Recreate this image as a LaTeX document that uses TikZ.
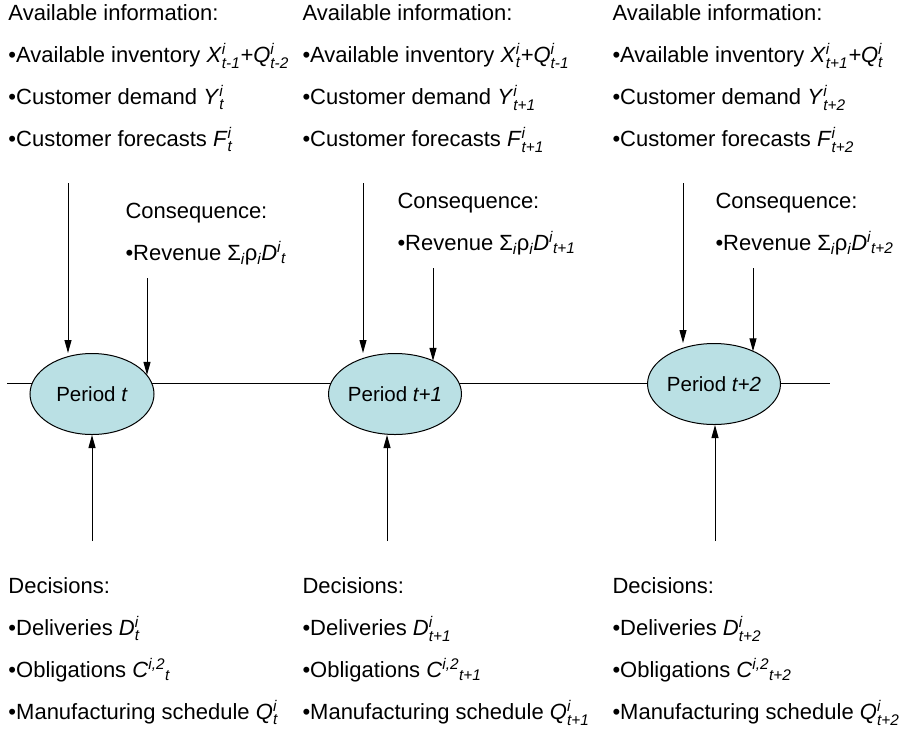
\documentclass[tikz,border=0pt]{standalone}
\usepackage{amsmath}
\usepackage{fontspec}
\setmainfont{Liberation Sans}
\usetikzlibrary{arrows.meta,shapes.geometric}
\definecolor{periodfill}{RGB}{186,224,228}
\newcommand{\vi}[1]{\textit{#1}}
\newcommand{\ssub}[3]{\textit{#1}$^{\textit{#2}}_{\textit{#3}}$}
\newcommand{\ssubr}[3]{\textit{#1}$^{\textit{#2}}{}_{\textit{#3}}$}

\begin{document}
\begin{tikzpicture}[x=1pt,y=-1pt,line width=1pt,
      >={Triangle[length=13pt,width=7pt]},
      txt/.style={anchor=base west,align=left,inner sep=0pt,font=\fontsize{22}{42}\selectfont},
      period/.style={ellipse,draw,fill=periodfill,minimum width=124pt,minimum height=81pt,
        inner sep=0pt,font=\fontsize{20.5}{24}\selectfont}]
      \useasboundingbox (0,0) rectangle (899,729);
      % time line
      \coordinate (l0) at (7,383);\coordinate (l1) at (830,383);
      \draw (l0)--(l1);
      \node[period] (p1) at (92,394) {Period \vi{t}};
      \node[period] (p2) at (395,394) {Period \vi{t+1}};
      \node[period] (p3) at (714,384) {Period \vi{t+2}};
      % information (anchored at the last line)
      \node[txt] (info1) at (8,146) {Available information:\\
        •Available inventory \ssub{X}{i}{t-1}\vi{+}\ssub{Q}{i}{t-2}\\
        •Customer demand \ssub{Y}{i}{t}\\•Customer forecasts \ssub{F}{i}{t}};
      \node[txt] (info2) at (302,146) {Available information:\\
        •Available inventory \ssub{X}{i}{t}\vi{+}\ssub{Q}{i}{t-1}\\
        •Customer demand \ssub{Y}{i}{t+1}\\•Customer forecasts \ssub{F}{i}{t+1}};
      \node[txt] (info3) at (612,146) {Available information:\\
        •Available inventory \ssub{X}{i}{t+1}\vi{+}\ssub{Q}{i}{t}\\
        •Customer demand \ssub{Y}{i}{t+2}\\•Customer forecasts \ssub{F}{i}{t+2}};
      % consequences
      \node[txt] (cons1) at (125,260) {Consequence:\\•Revenue Σ$_{\vi{i}}$ρ$_{\vi{i}}$\ssubr{D}{i}{t}};
      \node[txt] (cons2) at (397,250) {Consequence:\\•Revenue Σ$_{\vi{i}}$ρ$_{\vi{i}}$\ssubr{D}{i}{t+1}};
      \node[txt] (cons3) at (715,250) {Consequence:\\•Revenue Σ$_{\vi{i}}$ρ$_{\vi{i}}$\ssubr{D}{i}{t+2}};
      % decisions
      \node[txt] (dec1) at (8,719) {Decisions:\\•Deliveries \ssub{D}{i}{t}\\
        •Obligations \ssubr{C}{i,2}{t}\\•Manufacturing schedule \ssub{Q}{i}{t}};
      \node[txt] (dec2) at (302,719) {Decisions:\\•Deliveries \ssub{D}{i}{t+1}\\
        •Obligations \ssubr{C}{i,2}{t+1}\\•Manufacturing schedule \ssub{Q}{i}{t+1}};
      \node[txt] (dec3) at (612,719) {Decisions:\\•Deliveries \ssub{D}{i}{t+2}\\
        •Obligations \ssubr{C}{i,2}{t+2}\\•Manufacturing schedule \ssub{Q}{i}{t+2}};
      % arrows
      \coordinate (a1) at (68,183);\draw[->](a1)--(a1|-p1.north);
      \coordinate (r1) at (147,278);\draw[->](r1)--(r1|-p1.19);
      \coordinate (b1) at (92,541);\draw[->](b1)--(b1|-p1.south);
      \coordinate (a2) at (363,183);\draw[->](a2)--(a2|-p2.north);
      \coordinate (r2) at (433,268);\draw[->](r2)--(r2|-p2.40);
      \coordinate (b2) at (387,541);\draw[->](b2)--(b2|-p2.south);
      \coordinate (a3) at (683,183);\draw[->](a3)--(a3|-p3.north);
      \coordinate (r3) at (753,268);\draw[->](r3)--(r3|-p3.39);
      \coordinate (b3) at (715,541);\draw[->](b3)--(b3|-p3.south);
    \end{tikzpicture}
\end{document}
